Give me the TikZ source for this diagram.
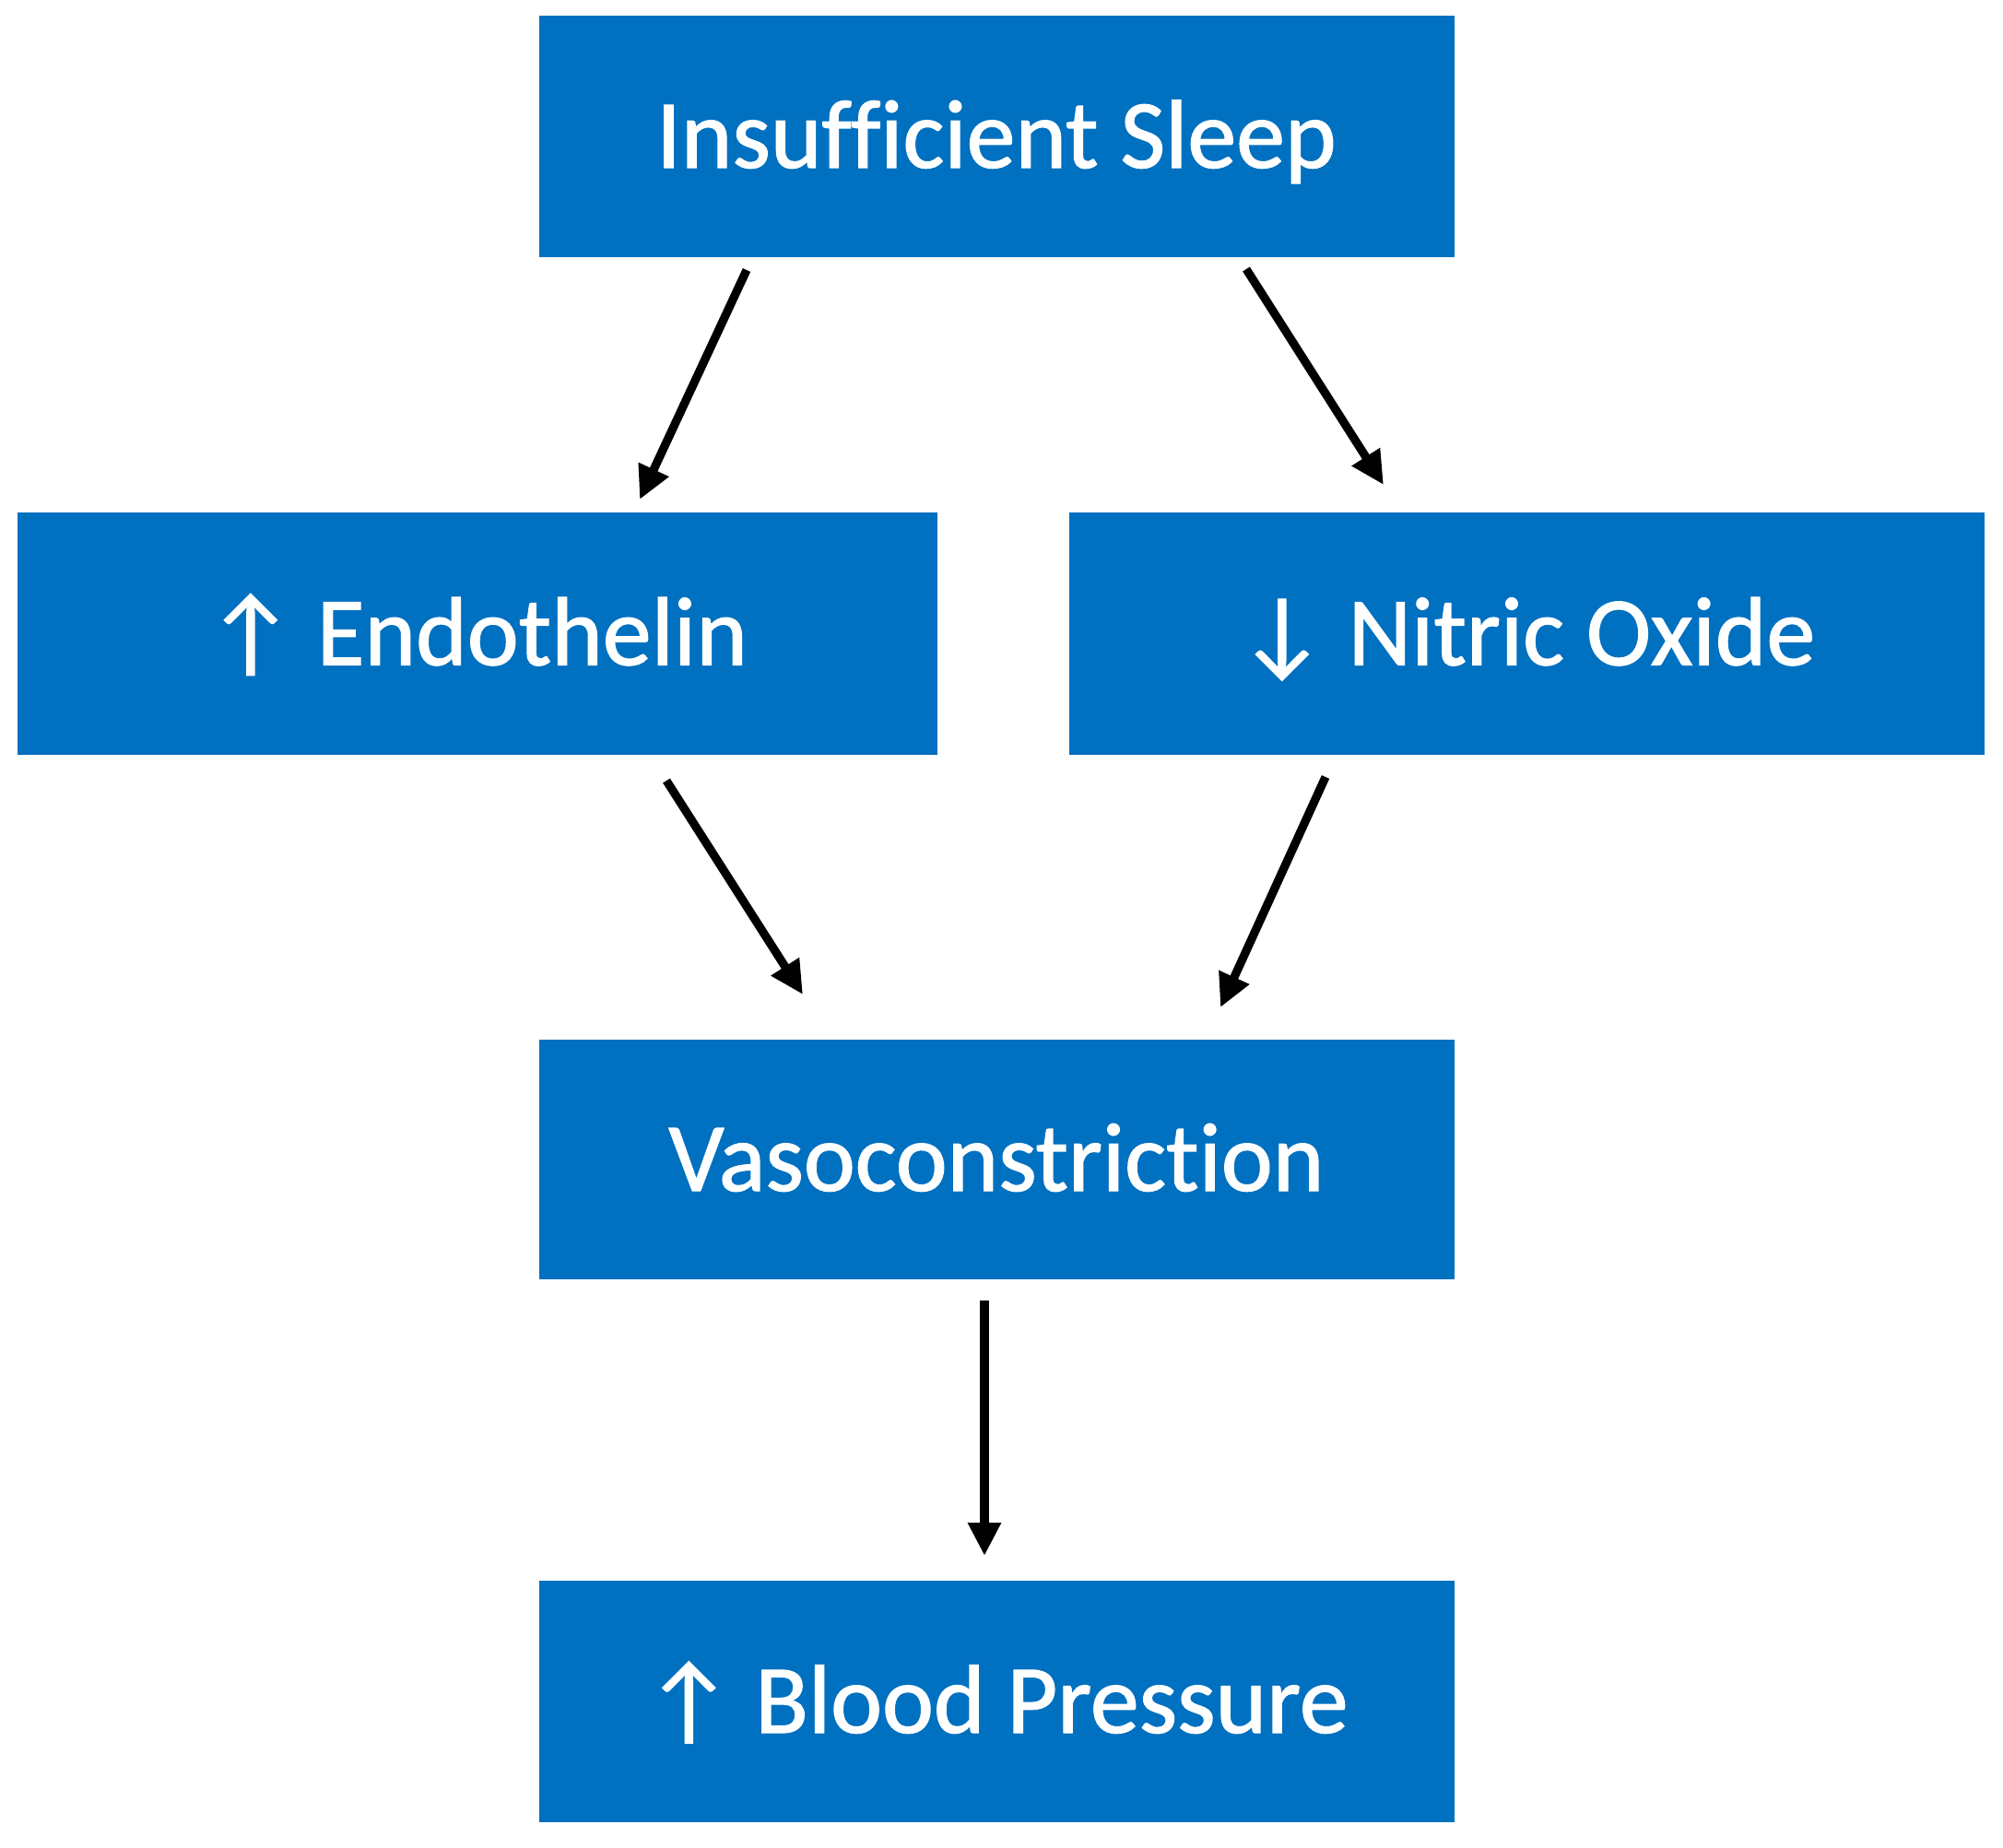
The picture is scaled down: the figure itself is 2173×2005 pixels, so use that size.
\documentclass[tikz,border=0pt]{standalone}
\usepackage{fontspec}
\setmainfont[Ligatures=CommonOff,FakeBold=1.2]{Carlito}
\usetikzlibrary{arrows.meta}
\definecolor{boxblue}{HTML}{0070C0}
\tikzset{
  flowbox/.style={fill=boxblue, draw=boxblue, line width=0.5pt, text=white, inner sep=0pt,
    minimum width=496pt, minimum height=130.5pt,
    font=\fontsize{53}{60}\selectfont, text height=34pt, text depth=0pt},
  flowarrow/.style={draw=black, line width=4.6pt, -{Triangle[length=18pt,width=17pt]}}
}
\begin{document}
\begin{tikzpicture}[x=0.5pt,y=-0.5pt]
\useasboundingbox (0,0) rectangle (2173,2005);
\node[flowbox] (sleep) at (1081,148) {Insufficient Sleep};
\node[flowbox, minimum width=498.5pt] (endo) at (517.5,687.5) {↑ Endothelin};
\node[flowbox] (no) at (1656,687.5) {↓ Nitric Oxide};
\node[flowbox, minimum height=129.5pt] (vaso) at (1081,1258) {Vasoconstriction};
\node[flowbox] (bp) at (1081,1846) {↑ Blood Pressure};
\coordinate (a1s) at (810,293);
\coordinate (a1e) at (694,542);
\coordinate (a2s) at (1352,292);
\coordinate (a2e) at (1501,526);
\coordinate (a3s) at (723,847);
\coordinate (a3e) at (871,1079);
\coordinate (a4s) at (1438,843);
\coordinate (a4e) at (1324,1093);
\coordinate (a5s) at (1068,1411);
\coordinate (a5e) at (1068,1688);
\draw[flowarrow] (a1s) -- (a1e);
\draw[flowarrow] (a2s) -- (a2e);
\draw[flowarrow] (a3s) -- (a3e);
\draw[flowarrow] (a4s) -- (a4e);
\draw[flowarrow] (a5s) -- (a5e);
\end{tikzpicture}
\end{document}
